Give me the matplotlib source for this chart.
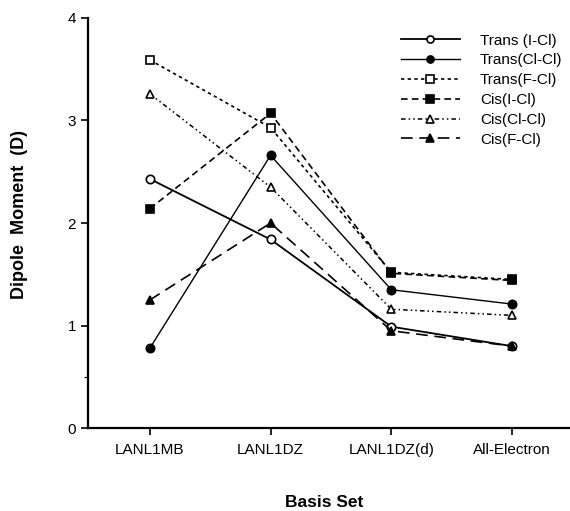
import matplotlib
matplotlib.use("Agg")
import matplotlib.pyplot as plt

plt.rcParams["font.family"] = ["Liberation Sans", "DejaVu Sans"]

basis = ["LANL1MB", "LANL1DZ", "LANL1DZ(d)", "All-Electron"]
labels = ["Trans (I-Cl)", "Trans(Cl-Cl)", "Trans(F-Cl)",
          "Cis(I-Cl)", "Cis(Cl-Cl)", "Cis(F-Cl)"]
trans_icl = [2.43, 1.84, 0.99, 0.80]
trans_clcl = [0.78, 2.66, 1.35, 1.21]
trans_fcl = [3.59, 2.93, 1.52, 1.45]
cis_icl = [2.14, 3.07, 1.51, 1.44]
cis_clcl = [3.26, 2.35, 1.16, 1.10]
cis_fcl = [1.25, 2.00, 0.95, 0.80]
series = [trans_icl, trans_clcl, trans_fcl, cis_icl, cis_clcl, cis_fcl]

# (linestyle, marker, filled, linewidth)
styles = [
    ("-", "o", False, 1.3),
    ("-", "o", True, 1.0),
    ((0, (2, 2)), "s", False, 1.2),
    ((0, (4, 2.5)), "s", True, 1.2),
    ((0, (3, 2, 1, 2, 1, 2)), "^", False, 1.1),
    ((0, (7, 4)), "^", True, 1.2),
]

fig = plt.figure(figsize=(5.70, 5.11), dpi=100)
ax = fig.add_axes([0.154, 0.162, 0.846, 0.803])

xs = list(range(len(basis)))
for ys, lab, (ls, mk, filled, lw) in zip(series, labels, styles):
    ax.plot(xs, ys, color="black", linestyle=ls, lw=lw, marker=mk, ms=6,
            mfc="black" if filled else "white", mec="black", mew=1.2,
            label=lab)

ax.set_xlim(-0.514, 3.48)
ax.set_ylim(0, 4)
ax.set_yticks([0, 1, 2, 3, 4])
ax.set_yticks([0.5], minor=True)
ax.set_xticks(xs)
ax.set_xticklabels(basis, fontsize=11)
ax.tick_params(axis="both", direction="out", length=5, width=1.2, labelsize=11)
ax.tick_params(axis="y", which="minor", length=3, width=0.8)
ax.tick_params(axis="x", pad=6)
for side in ("top", "right"):
    ax.spines[side].set_visible(False)
for side in ("left", "bottom"):
    ax.spines[side].set_linewidth(1.6)

ax.set_ylabel("Dipole  Moment  (D)", fontsize=13, fontweight="bold")
ax.yaxis.set_label_coords(-0.124, 0.522)
ax.set_xlabel("Basis Set", fontsize=12.5, fontweight="bold")
ax.xaxis.set_label_coords(0.49, -0.163)

ax.legend(loc="upper left", bbox_to_anchor=(0.62, 0.995), frameon=False,
          fontsize=11, handlelength=3.9, handletextpad=1.3,
          labelspacing=0.38, markerscale=0.85)

fig.savefig("out.png", dpi=100)
